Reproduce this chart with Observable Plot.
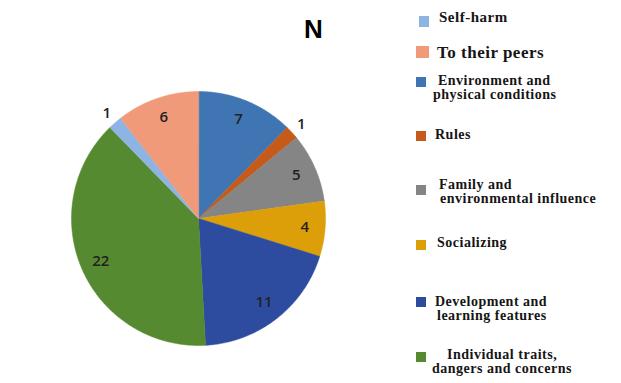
<!DOCTYPE html>
<html><head><meta charset="utf-8">
<script src="https://cdn.jsdelivr.net/npm/d3@7"></script>
<script src="https://cdn.jsdelivr.net/npm/@observablehq/plot@0.6"></script>
<style>
body{margin:0;background:#fff;}
#wrap{position:relative;width:621px;height:383px;overflow:hidden;background:#fff;}
#wrap svg{position:absolute;left:0;top:0;}
.sw{position:absolute;}
.lt{position:absolute;font-family:"Liberation Serif","Times New Roman",serif;font-weight:bold;color:#151515;white-space:nowrap;letter-spacing:0.5px;}
.lt span{display:block;}
</style></head><body><div id="wrap"></div>
<script>
// Data (pie order, clockwise from 12 o'clock)
const categories = ["Environment and physical conditions","Rules","Family and environmental influence","Socializing","Development and learning features","Individual traits, dangers and concerns","Self-harm","To their peers"];
const values = [7,1,5,4,11,22,1,6];
const colors = ["#3e75b2","#c55a1b","#858585","#dd9f09","#2e4c9f","#558a30","#8eb4e3","#f09a7a"];
const title = "N";
// Legend (its own order)
const legendOrder = ["Self-harm","To their peers","Environment and physical conditions","Rules","Family and environmental influence","Socializing","Development and learning features","Individual traits, dangers and concerns"];
const legendLines = [["Self-harm"],["To their peers"],["Environment and","physical conditions"],["Rules"],["Family and","environmental influence"],["Socializing"],["Development and","learning features"],["Individual traits,","dangers and concerns"]];

// Layout (pixels): swatch [x, y, w, h]; text [first-line center y, font size, line height, x of each line]
const legendSwatches = [[419,16,10,11],[416,46,13,12],[416,77,10,10],[416,131,10,10],[416,185,10,10],[416,240,10,10],[416,297,10,10],[416,352,10,10]];
const legendTextPos = [[17.5,15,15,[439]],[52,17,17,[437]],[81,14,14,[438,433]],[135,14,14,[435]],[184.5,14,14,[439,440]],[243,14,14,[437]],[301.5,14,14,[435,437]],[354.5,14,14,[447,432]]];

const arcs = d3.pie().sort(null).value(d => d)(values);
const pts = [];
arcs.forEach((a, i) => {
  const cat = categories[i];
  pts.push({cat, x: 0, y: 0});
  const n = Math.max(4, Math.ceil((a.endAngle - a.startAngle) / 0.01));
  for (let k = 0; k <= n; k++) {
    const t = a.startAngle + (a.endAngle - a.startAngle) * k / n;
    pts.push({cat, x: Math.sin(t), y: Math.cos(t)});
  }
});
const labels = arcs.map((a, i) => {
  const m = (a.startAngle + a.endAngle) / 2;
  const rf = values[i] <= 1 ? 1.1 : 0.84;
  return {x: rf * Math.sin(m), y: rf * Math.cos(m), text: String(values[i])};
});

const chart = Plot.plot({
  width: 621, height: 383, margin: 0,
  style: {background: "transparent", fontFamily: "'Open Sans', sans-serif"},
  x: {domain: [-1, 1], range: [71, 325], axis: null},
  y: {domain: [-1, 1], range: [345, 91], axis: null},
  color: {domain: categories, range: colors},
  marks: [
    Plot.line(pts, {x: "x", y: "y", z: "cat", fill: "cat", stroke: "cat", strokeWidth: 0.5, curve: "linear-closed"}),
    Plot.text(labels, {x: "x", y: "y", text: "text", fontSize: 15, fontWeight: 600, fill: "#222", textAnchor: "middle", lineAnchor: "middle"}),
    Plot.text([title], {frameAnchor: "top-left", dx: 313, dy: 29, text: d => d, fontSize: 26, fontWeight: "bold", fontFamily: "'Liberation Sans', Arial, sans-serif", fill: "#000", textAnchor: "middle", lineAnchor: "middle"})
  ]
});
const wrap = document.getElementById("wrap");
wrap.appendChild(chart);

legendOrder.forEach((name, i) => {
  const [sx, sy, sw, sh] = legendSwatches[i];
  const s = document.createElement("div");
  s.className = "sw";
  s.style.cssText = `left:${sx}px;top:${sy}px;width:${sw}px;height:${sh}px;background:${colors[categories.indexOf(name)]};`;
  wrap.appendChild(s);
  const [cy, fs, lh, xs] = legendTextPos[i];
  const x0 = Math.min(...xs);
  const t = document.createElement("div");
  t.className = "lt";
  t.style.left = x0 + "px";
  t.style.fontSize = fs + "px";
  t.style.lineHeight = lh + "px";
  t.style.top = (cy - lh / 2) + "px";
  legendLines[i].forEach((line, j) => {
    const sp = document.createElement("span");
    sp.textContent = line;
    sp.style.marginLeft = (xs[j] - x0) + "px";
    t.appendChild(sp);
  });
  wrap.appendChild(t);
});
</script></body></html>
